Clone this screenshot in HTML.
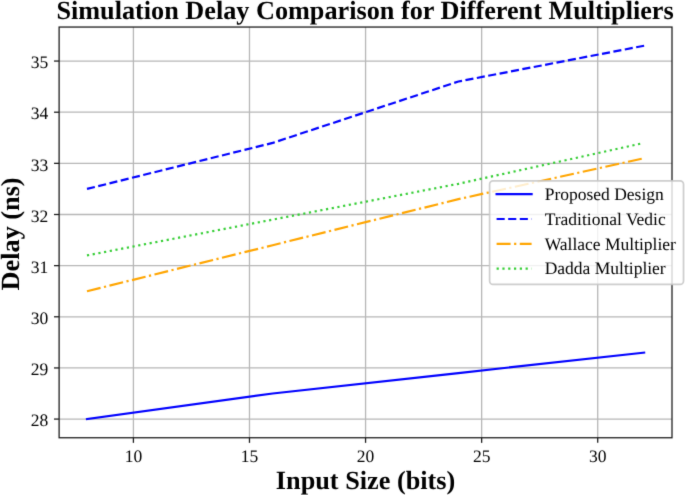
<!DOCTYPE html>
<html lang="en"><head><meta charset="utf-8"><title>Simulation Delay Comparison for Different Multipliers</title>
<style>html,body{margin:0;padding:0;background:#fff}body{width:685px;height:495px;overflow:hidden}svg{display:block}text{font-family:"Liberation Serif",serif;fill:#000;text-rendering:geometricPrecision}.b{font-weight:bold;font-size:26.25px}.ti{font-size:26.22px}.t{font-size:17.5px}.l{font-size:17.5px}svg{will-change:transform}</style></head><body>
<svg width="685" height="495" viewBox="0 0 685 495">
<defs><filter id="soft" x="0" y="0" width="685" height="495" filterUnits="userSpaceOnUse" color-interpolation-filters="sRGB"><feConvolveMatrix order="3" kernelMatrix="0.01134 0.08382 0.01134 0.08382 0.61935 0.08382 0.01134 0.08382 0.01134" divisor="1" edgeMode="duplicate" preserveAlpha="true"/></filter></defs>
<g filter="url(#soft)">
<rect width="685" height="495" fill="#fff"/>
<g stroke="#b6b6b6" stroke-width="1.283" fill="none">
<line x1="133.41" y1="27.05" x2="133.41" y2="437.75"/>
<line x1="249.48" y1="27.05" x2="249.48" y2="437.75"/>
<line x1="365.56" y1="27.05" x2="365.56" y2="437.75"/>
<line x1="481.64" y1="27.05" x2="481.64" y2="437.75"/>
<line x1="597.71" y1="27.05" x2="597.71" y2="437.75"/>
<line x1="59.12" y1="419.08" x2="672.0" y2="419.08"/>
<line x1="59.12" y1="367.94" x2="672.0" y2="367.94"/>
<line x1="59.12" y1="316.79" x2="672.0" y2="316.79"/>
<line x1="59.12" y1="265.64" x2="672.0" y2="265.64"/>
<line x1="59.12" y1="214.50" x2="672.0" y2="214.50"/>
<line x1="59.12" y1="163.35" x2="672.0" y2="163.35"/>
<line x1="59.12" y1="112.21" x2="672.0" y2="112.21"/>
<line x1="59.12" y1="61.06" x2="672.0" y2="61.06"/>
</g>
<g fill="none" stroke-width="2.187" stroke-linejoin="round">
<polyline points="86.98,419.08 272.70,393.51 458.42,373.05 644.14,352.59" stroke="#0000ff" stroke-linecap="square"/>
<polyline points="86.98,188.93 272.70,142.90 458.42,81.52 644.14,45.72" stroke="#0000ff" stroke-linecap="butt" stroke-dasharray="8.092,3.499"/>
<polyline points="86.98,291.22 272.70,245.19 458.42,199.16 644.14,158.24" stroke="#ffa500" stroke-linecap="butt" stroke-dasharray="13.997,3.499,2.187,3.499"/>
<polyline points="86.98,255.42 272.70,219.61 458.42,183.81 643.56,143.02" stroke="#32cd32" stroke-linecap="butt" stroke-dasharray="2.187,3.609"/>
</g>
<g stroke="#1c1c1c" stroke-width="1.283">
<line x1="133.41" y1="437.75" x2="133.41" y2="442.85"/>
<line x1="249.48" y1="437.75" x2="249.48" y2="442.85"/>
<line x1="365.56" y1="437.75" x2="365.56" y2="442.85"/>
<line x1="481.64" y1="437.75" x2="481.64" y2="442.85"/>
<line x1="597.71" y1="437.75" x2="597.71" y2="442.85"/>
<line x1="54.02" y1="419.08" x2="59.12" y2="419.08"/>
<line x1="54.02" y1="367.94" x2="59.12" y2="367.94"/>
<line x1="54.02" y1="316.79" x2="59.12" y2="316.79"/>
<line x1="54.02" y1="265.64" x2="59.12" y2="265.64"/>
<line x1="54.02" y1="214.50" x2="59.12" y2="214.50"/>
<line x1="54.02" y1="163.35" x2="59.12" y2="163.35"/>
<line x1="54.02" y1="112.21" x2="59.12" y2="112.21"/>
<line x1="54.02" y1="61.06" x2="59.12" y2="61.06"/>
</g>
<rect x="59.12" y="27.05" width="612.88" height="410.70" fill="none" stroke="#1c1c1c" stroke-width="1.283"/>
<text class="t" x="133.41" y="461.7" text-anchor="middle">10</text>
<text class="t" x="249.48" y="461.7" text-anchor="middle">15</text>
<text class="t" x="365.56" y="461.7" text-anchor="middle">20</text>
<text class="t" x="481.64" y="461.7" text-anchor="middle">25</text>
<text class="t" x="597.71" y="461.7" text-anchor="middle">30</text>
<text class="t" x="48.3" y="426.28" text-anchor="end">28</text>
<text class="t" x="48.3" y="375.14" text-anchor="end">29</text>
<text class="t" x="48.3" y="323.99" text-anchor="end">30</text>
<text class="t" x="48.3" y="272.84" text-anchor="end">31</text>
<text class="t" x="48.3" y="221.70" text-anchor="end">32</text>
<text class="t" x="48.3" y="170.55" text-anchor="end">33</text>
<text class="t" x="48.3" y="119.41" text-anchor="end">34</text>
<text class="t" x="48.3" y="68.26" text-anchor="end">35</text>
<text class="b ti" x="365.06" y="18.6" text-anchor="middle">Simulation Delay Comparison for Different Multipliers</text>
<text class="b" x="365.56" y="488.8" text-anchor="middle">Input Size (bits)</text>
<text class="b" transform="translate(18.8 233.90) rotate(-90)" text-anchor="middle">Delay (ns)</text>
<rect x="489.6" y="180.85" width="193.9" height="103.6" rx="3.4" ry="3.4" fill="#fff" fill-opacity="0.8" stroke="#c4c4c4" stroke-opacity="0.85" stroke-width="1.677"/>
<line x1="496.60" y1="194.20" x2="531.60" y2="194.20" stroke="#0000ff" stroke-width="2.187" stroke-linecap="square"/>
<text class="l" x="544.70" y="199.90">Proposed Design</text>
<line x1="496.60" y1="219.00" x2="531.60" y2="219.00" stroke="#0000ff" stroke-width="2.187" stroke-linecap="butt" stroke-dasharray="8.092,3.499"/>
<text class="l" x="544.70" y="224.70">Traditional Vedic</text>
<line x1="496.60" y1="243.80" x2="531.60" y2="243.80" stroke="#ffa500" stroke-width="2.187" stroke-linecap="butt" stroke-dasharray="13.997,3.499,2.187,3.499"/>
<text class="l" x="544.70" y="249.50">Wallace Multiplier</text>
<line x1="496.60" y1="268.60" x2="531.60" y2="268.60" stroke="#32cd32" stroke-width="2.187" stroke-linecap="butt" stroke-dasharray="2.187,3.609"/>
<text class="l" x="544.70" y="274.30">Dadda Multiplier</text>
</g></svg></body></html>
